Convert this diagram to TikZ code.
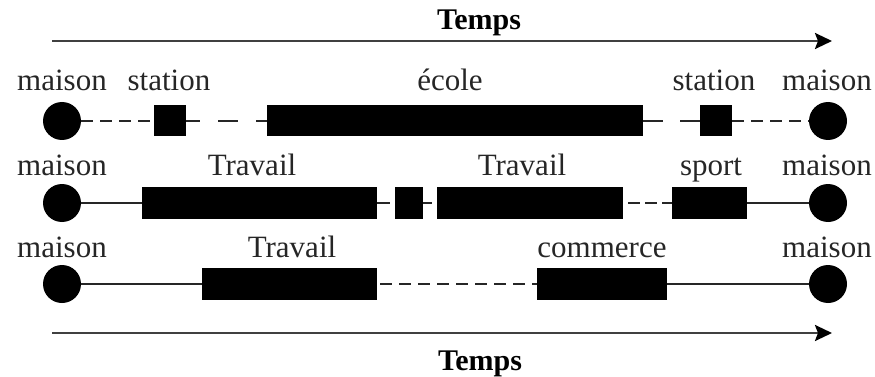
\documentclass[tikz,border=0pt]{standalone}
\usepackage{fontspec}
\setmainfont{Liberation Serif}
\usetikzlibrary{arrows.meta}
\tikzset{
  dot/.style={circle, fill=black, draw=none, minimum size=38pt, inner sep=0pt},
  blk/.style={rectangle, fill=black, draw=none, minimum height=#1, inner sep=0pt},
  blk/.default=32pt,
  lbl/.style={anchor=base, inner sep=0pt, font=\fontsize{31}{36}\selectfont, text=black!85},
  ttl/.style={anchor=base, inner sep=0pt, font=\fontsize{30}{36}\selectfont\bfseries},
  conn/.style={line width=2pt, black!85},
  shortdash/.style={dash pattern=on 12pt off 7pt},
  longdash/.style={dash pattern=on 20pt off 18pt},
  timearrow/.style={line width=2.5pt, black!75, -{Stealth[length=17pt,width=16pt,inset=3pt,black]}}
}
\begin{document}
\begin{tikzpicture}[x=1pt,y=-1pt]
\useasboundingbox (0,0) rectangle (875,377);
% time arrows
\coordinate (ta1) at (52,41);
\coordinate (ta2) at (832,41);
\draw[timearrow] (ta1) -- (ta2);
\node[ttl] (t1) at (479,30) {Temps};
\coordinate (tb1) at (52,333);
\coordinate (tb2) at (832,333);
\draw[timearrow] (tb1) -- (tb2);
\node[ttl] (t2) at (480,370) {Temps};

% row 1
\node[dot] (r1a) at (62,121) {};
\node[blk=31pt, minimum width=32pt] (r1b) at (170,121) {};
\node[blk=31pt, minimum width=376pt] (r1c) at (455,121) {};
\node[blk=31pt, minimum width=32pt] (r1d) at (716,121) {};
\node[dot] (r1e) at (828,121) {};
\draw[conn, shortdash] (r1a) -- (r1b);
\draw[conn, longdash, dash phase=6pt] (r1b) -- (r1c);
\draw[conn, dash pattern=on 20pt off 17pt] (r1c) -- (r1d);
\draw[conn, shortdash] (r1d) -- (r1e);
\node[lbl] (l1a) at (62,91) {maison};
\node[lbl] (l1b) at (169,91) {station};
\node[lbl] (l1c) at (450,91) {école};
\node[lbl] (l1d) at (714,91) {station};
\node[lbl] (l1e) at (827,91) {maison};

% row 2
\node[dot] (r2a) at (62,203) {};
\node[blk, minimum width=235pt] (r2b) at (259.5,203) {};
\node[blk, minimum width=28pt] (r2c) at (409,203) {};
\node[blk, minimum width=186pt] (r2d) at (530,203) {};
\node[blk, minimum width=75pt] (r2e) at (709.5,203) {};
\node[dot] (r2f) at (828,203) {};
\draw[conn] (r2a) -- (r2b);
\draw[conn, dash pattern=on 13pt off 5pt] (r2b) -- (r2c);
\draw[conn, dash pattern=on 9pt off 5pt] (r2c) -- (r2d);
\draw[conn, dash pattern=on 12pt off 5pt, dash phase=-5pt] (r2d) -- (r2e);
\draw[conn] (r2e) -- (r2f);
\node[lbl] (l2a) at (62,175) {maison};
\node[lbl] (l2b) at (252,175) {Travail};
\node[lbl] (l2c) at (522,175) {Travail};
\node[lbl] (l2d) at (711,175) {sport};
\node[lbl] (l2e) at (827,175) {maison};

% row 3
\node[dot] (r3a) at (62,284) {};
\node[blk, minimum width=175pt] (r3b) at (289.5,284) {};
\node[blk, minimum width=130pt] (r3c) at (602,284) {};
\node[dot] (r3d) at (828,284) {};
\draw[conn] (r3a) -- (r3b);
\draw[conn, shortdash, dash phase=-3pt] (r3b) -- (r3c);
\draw[conn] (r3c) -- (r3d);
\node[lbl] (l3a) at (62,257) {maison};
\node[lbl] (l3b) at (292,257) {Travail};
\node[lbl] (l3c) at (602,257) {commerce};
\node[lbl] (l3d) at (827,257) {maison};
\end{tikzpicture}
\end{document}
